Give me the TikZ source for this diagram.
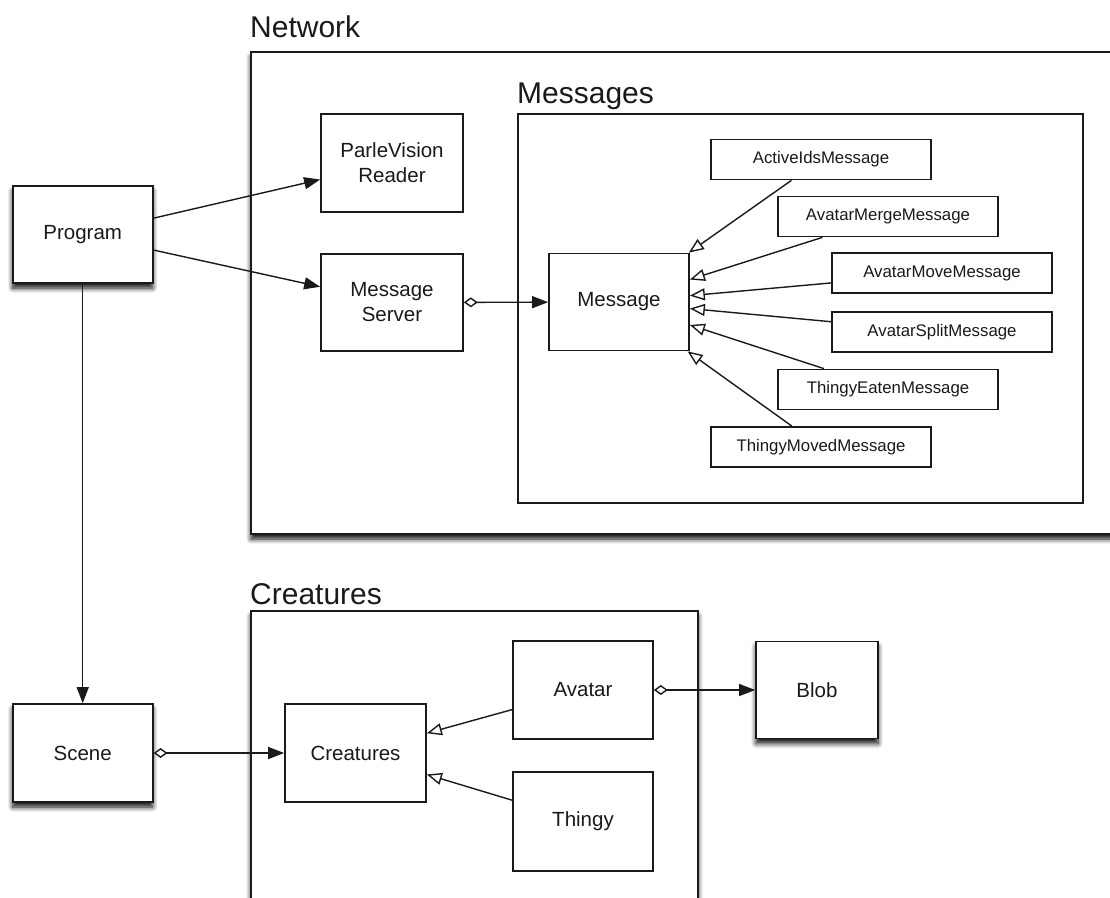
\documentclass[tikz,border=0pt]{standalone}
\usepackage{fontspec}
\setmainfont{Liberation Sans}
\usetikzlibrary{arrows.meta,shadows.blur}
\definecolor{ink}{HTML}{1A1A1A}
\begin{document}
\begin{tikzpicture}[x=1pt,y=-1pt,
  box/.style={draw=ink,line width=1.7pt,fill=white,inner sep=0pt,align=center,text=ink,font=\fontsize{20.5}{25}\selectfont},
  big/.style={box,minimum width=140pt,minimum height=97pt},
  small/.style={box,minimum width=220pt,minimum height=40pt,font=\fontsize{16.8}{20}\selectfont},
  shad/.style={blur shadow={shadow xshift=0pt,shadow yshift=-5pt,shadow blur radius=5pt,shadow blur steps=8,shadow opacity=95}},
  frame/.style={draw=ink,line width=2.2pt,fill=white},
  title/.style={anchor=base west,inner sep=0pt,text=ink,font=\fontsize{30}{35}\selectfont},
  conn/.style={draw=ink,line width=1.4pt},
  assoc/.style={conn,-{Triangle[length=16pt,width=12pt]}},
  aggr/.style={conn,{Diamond[open,length=14pt,width=10pt,fill=white]}-{Triangle[length=16pt,width=12pt]}},
  inherit/.style={conn,-{Triangle[open,length=15pt,width=12pt,fill=white]}}
]
\useasboundingbox (0,0) rectangle (1110,897);
\clip (0,0) rectangle (1110,897);

% frames
\path[frame,shad] (251,52) rectangle (1140,534);
\path[frame,shad] (251,611) rectangle (698,930);
\path[draw=ink,line width=1.7pt,fill=white] (518,114) rectangle (1083,503);

% titles
\node[title] (tnet) at (250,37) {Network};
\node[title] (tmsgs) at (517,103) {Messages};
\node[title] (tcrea) at (250,604) {Creatures};

% main nodes
\node[big,shad] (prog) at (82.7,234.5) {Program};
\node[big,shad,minimum height=98pt] (scene) at (82.7,753) {Scene};
\node[big,minimum width=142pt,minimum height=98pt] (pv) at (392,163) {ParleVision\\Reader};
\node[big,minimum width=142pt] (ms) at (392,302.5) {Message\\Server};
\node[big] (msg) at (619,302) {Message};

\node[small] (ai) at (821,159.5) {ActiveIdsMessage};
\node[small] (amerge) at (888,216.5) {AvatarMergeMessage};
\node[small] (amove) at (942,273) {AvatarMoveMessage};
\node[small] (asplit) at (942,332) {AvatarSplitMessage};
\node[small] (teaten) at (888,389.5) {ThingyEatenMessage};
\node[small] (tmoved) at (821,447) {ThingyMovedMessage};

\node[big,minimum width=141pt,minimum height=98pt] (crea) at (355.5,753) {Creatures};
\node[big,minimum height=98pt] (avatar) at (583,690) {Avatar};
\node[big,minimum height=99pt] (thingy) at (583,821.5) {Thingy};
\node[big,shad,minimum width=122pt,minimum height=97pt] (blob) at (817,690) {Blob};

% connectors
\draw[assoc] (prog) -- (pv);
\draw[assoc] (prog) -- (ms);
\draw[assoc] (prog) -- (scene);
\draw[aggr] (ms) -- (msg);
\draw[aggr] (scene) -- (crea);
\draw[aggr] (avatar) -- (blob);

\foreach \c in {ai,amerge,amove,asplit,teaten,tmoved}
  \draw[inherit] (\c) -- (msg);
\draw[inherit] (avatar) -- (crea);
\draw[inherit] (thingy) -- (crea);
\end{tikzpicture}
\end{document}
